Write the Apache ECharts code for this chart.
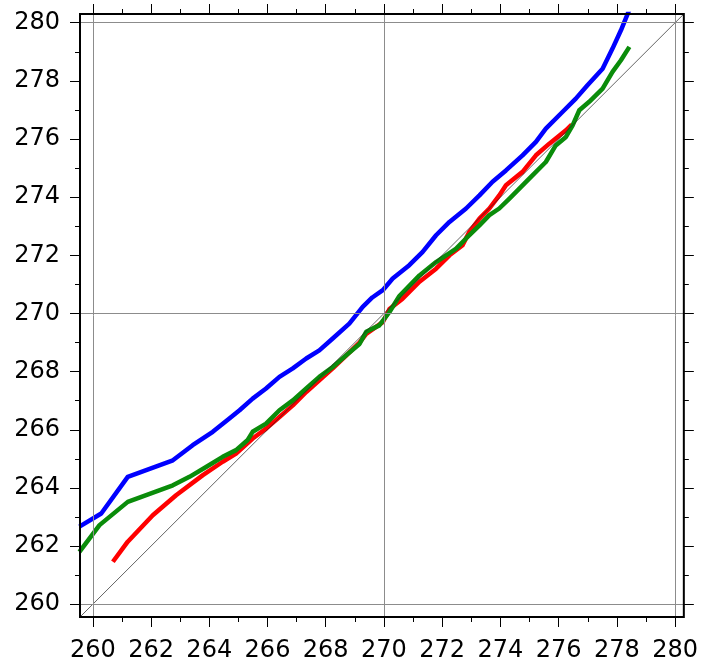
<!DOCTYPE html>
<html>
<head>
<meta charset="utf-8">
<script src="https://cdn.jsdelivr.net/npm/echarts@6/dist/echarts.min.js"></script>
<style>
  html, body { margin: 0; padding: 0; background: #fff; }
  #chart { width: 701px; height: 663px; }
</style>
</head>
<body>
<div id="chart"></div>
<script>
// axis range (same on both axes, so y = x goes corner to corner)
const axisMin = 259.56;
const axisMax = 280.3;

// tick labels
const majorTicks = [260, 262, 264, 266, 268, 270, 272, 274, 276, 278, 280];
const minorTicks = [261, 263, 265, 267, 269, 271, 273, 275, 277, 279];
const gridValues = [260, 270, 280];

// quantile curves [x, y]
const blueLine = [
    [259.54, 262.67], [260.29, 263.12], [261.2, 264.38], [262.75, 264.95],
    [263.43, 265.47], [264.12, 265.93], [264.69, 266.39], [265.04, 266.67],
    [265.49, 267.07], [265.95, 267.42], [266.41, 267.82], [266.87, 268.11],
    [267.33, 268.45], [267.78, 268.73], [268.24, 269.14], [268.81, 269.65],
    [269.27, 270.23], [269.6, 270.55], [269.96, 270.8], [270.3, 271.2],
    [270.87, 271.66], [271.33, 272.12], [271.79, 272.69], [272.25, 273.15],
    [272.82, 273.61], [273.28, 274.06], [273.73, 274.53], [274.19, 274.92],
    [274.76, 275.44], [275.22, 275.9], [275.56, 276.36], [276.13, 276.93],
    [276.59, 277.39], [276.99, 277.85], [277.51, 278.42], [277.85, 279.11],
    [278.14, 279.74], [278.45, 280.5]
];
const redLine = [
    [260.69, 261.46], [261.2, 262.15], [262.06, 263.06], [262.86, 263.75],
    [263.78, 264.44], [264.46, 264.9], [264.92, 265.18], [265.49, 265.7],
    [265.95, 266.04], [266.41, 266.44], [266.87, 266.84], [267.33, 267.3],
    [267.78, 267.7], [268.24, 268.11], [268.7, 268.55], [269.16, 269.0],
    [269.39, 269.3], [269.96, 269.7], [270.19, 270.15], [270.64, 270.51],
    [271.22, 271.09], [271.79, 271.54], [272.25, 272.0], [272.7, 272.35],
    [272.93, 272.8], [273.28, 273.26], [273.62, 273.61], [273.96, 274.06],
    [274.19, 274.41], [274.76, 274.87], [275.22, 275.44], [275.68, 275.84],
    [276.25, 276.3], [276.45, 276.5]
];
const greenLine = [
    [259.54, 261.8], [260.23, 262.72], [261.2, 263.52], [262.75, 264.09],
    [263.32, 264.38], [263.89, 264.72], [264.46, 265.07], [264.92, 265.3],
    [265.32, 265.65], [265.49, 265.93], [265.95, 266.21], [266.41, 266.67],
    [266.87, 267.01], [267.33, 267.42], [267.78, 267.82], [268.24, 268.16],
    [268.7, 268.56], [269.16, 268.95], [269.39, 269.37], [269.84, 269.59],
    [270.19, 270.05], [270.53, 270.6], [271.22, 271.31], [271.79, 271.77],
    [272.48, 272.23], [272.82, 272.58], [273.28, 273.03], [273.62, 273.38],
    [273.96, 273.61], [274.31, 273.95], [274.99, 274.64], [275.56, 275.21],
    [275.9, 275.78], [276.25, 276.07], [276.48, 276.47], [276.71, 276.99],
    [277.05, 277.28], [277.51, 277.73], [277.85, 278.31], [278.14, 278.71],
    [278.43, 279.17]
];

const labelFont = { fontFamily: 'DejaVu Sans', fontSize: 24, color: '#000' };

// one axis per side and tick size; only the bottom / left major ones carry labels
function makeAxis(position, ticks, len, withLabels) {
    return {
        type: 'value',
        position: position,
        min: axisMin,
        max: axisMax,
        axisLine: { show: false },
        splitLine: { show: false },
        axisTick: {
            show: true,
            inside: false,
            length: len,
            customValues: ticks,
            lineStyle: { color: '#000', width: 1 }
        },
        axisLabel: withLabels
            ? Object.assign({ show: true, margin: position === 'bottom' ? 22 : 20, customValues: ticks }, labelFont)
            : { show: false }
    };
}

const chart = echarts.init(document.getElementById('chart'));

function lineSeries(data, color) {
    return {
        type: 'line',
        data: data,
        showSymbol: false,
        symbol: 'none',
        clip: true,
        lineStyle: { color: color, width: 4.5, join: 'round' },
        z: 3
    };
}

chart.setOption({
    animation: false,
    backgroundColor: '#fff',
    grid: {
        left: 80, right: 17, top: 14, bottom: 45,
        show: true,
        borderColor: '#000',
        borderWidth: 2,
        backgroundColor: 'transparent',
        z: 10
    },
    xAxis: [
        makeAxis('bottom', majorTicks, 10, true),
        makeAxis('bottom', minorTicks, 5, false),
        makeAxis('top', majorTicks, 10, false),
        makeAxis('top', minorTicks, 5, false)
    ],
    yAxis: [
        makeAxis('left', majorTicks, 10, true),
        makeAxis('left', minorTicks, 5, false),
        makeAxis('right', majorTicks, 10, false),
        makeAxis('right', minorTicks, 5, false)
    ],
    series: [
        {
            // grid reference lines at 260 / 270 / 280
            type: 'line',
            data: [],
            z: 1,
            markLine: {
                silent: true,
                symbol: 'none',
                animation: false,
                label: { show: false },
                lineStyle: { color: '#8c8c8c', width: 1, type: 'solid' },
                data: gridValues.map(v => ({ xAxis: v }))
                    .concat(gridValues.map(v => ({ yAxis: v })))
            }
        },
        lineSeries(blueLine, '#0000ff'),
        lineSeries(redLine, '#ff0000'),
        lineSeries(greenLine, '#0a8c0a'),
        {
            // y = x
            type: 'line',
            data: [[axisMin, axisMin], [axisMax, axisMax]],
            symbol: 'none',
            lineStyle: { color: '#222', width: 0.7 },
            z: 4
        }
    ]
});
</script>
</body>
</html>
